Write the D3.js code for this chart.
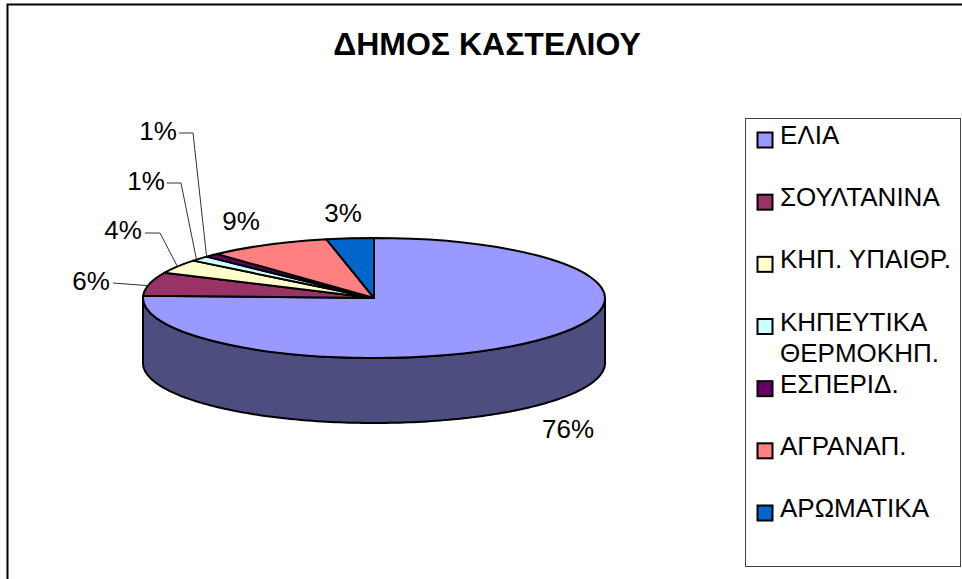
<!DOCTYPE html>
<html>
<head>
<meta charset="utf-8">
<script src="https://cdn.jsdelivr.net/npm/d3@7"></script>
<style>
  html, body { margin: 0; padding: 0; background: #fff; overflow: hidden; }
  text { font-family: "Liberation Sans", Arial, sans-serif; fill: #000; }
</style>
</head>
<body>
<script>
var width = 962;
var height = 579;

var title = "ΔΗΜΟΣ ΚΑΣΤΕΛΙΟΥ";
var categories = ["ΕΛΙΑ", "ΣΟΥΛΤΑΝΙΝΑ", "ΚΗΠ. ΥΠΑΙΘΡ.", "ΚΗΠΕΥΤΙΚΑ ΘΕΡΜΟΚΗΠ.", "ΕΣΠΕΡΙΔ.", "ΑΓΡΑΝΑΠ.", "ΑΡΩΜΑΤΙΚΑ"];
var values = [75.6, 6.3, 3.8, 1.4, 1.0, 8.6, 3.3];
var percentLabels = ["76%", "6%", "4%", "1%", "1%", "9%", "3%"];
var colors = ["#9999ff", "#993366", "#ffffcc", "#ccffff", "#660066", "#ff8080", "#0066cc"];
var wallColor = "#4d4d80";

// pie geometry
var cx = 374, cy = 298, rx = 231, ry = 60, depth = 65;

var svg = d3.select("body").append("svg")
    .attr("width", width)
    .attr("height", height)
    .style("display", "block");

// outer frame, only left and top are inside the picture
svg.append("path")
    .attr("d", "M7.5,579V4.5H962")
    .attr("fill", "none")
    .attr("stroke", "#000")
    .attr("stroke-width", 2);

svg.append("text")
    .attr("x", 487)
    .attr("y", 55)
    .attr("text-anchor", "middle")
    .style("font-size", "32px")
    .style("font-weight", "bold")
    .text(title);

//*********** Pie *******************
var slices = d3.pie().sort(null)(values);

// angle 0 is 12 o'clock, clockwise, like d3.arc
function rim(a, dy) {
    return [cx + rx*Math.sin(a), cy - ry*Math.cos(a) + (dy || 0)];
}

var line = d3.line();

// front wall of the big slice, from the right end to the left end
var front = d3.range(Math.PI/2, Math.PI*1.5 + 0.01, 0.02);
var wall = front.map(function(a) { return rim(a, 0); })
    .concat(front.slice().reverse().map(function(a) { return rim(a, depth); }));

svg.append("path")
    .attr("d", line(wall) + "Z")
    .attr("fill", wallColor)
    .attr("stroke", "#000")
    .attr("stroke-width", 2)
    .attr("stroke-linejoin", "round");

var arc = d3.arc().innerRadius(0).outerRadius(rx);

svg.append("g")
    .attr("transform", "translate(" + cx + "," + cy + ") scale(1," + (ry/rx) + ")")
    .selectAll("path")
    .data(slices)
    .join("path")
    .attr("d", arc)
    .attr("fill", function(d, i) { return colors[i]; })
    .attr("stroke", "#000")
    .attr("stroke-width", 2)
    .attr("stroke-linejoin", "round")
    .attr("vector-effect", "non-scaling-stroke");

//*********** Leaders and percent labels *******************
var labelAt = [[568, 438], [91, 290], [123, 239], [146, 190], [158, 140], [241, 230], [343, 222]];
// slice index -> elbow points, and how far along the slice's rim the leader lands
var elbows = {1: [[113, 283]], 2: [[145, 233], [160, 233]], 3: [[167, 183], [181, 183]], 4: [[179, 133], [193, 133]]};
var landing = {1: 0.43, 2: 0.5, 3: 0.25, 4: 0};

Object.keys(elbows).forEach(function(k) {
    var d = slices[k];
    var a = d.startAngle + (d.endAngle - d.startAngle)*landing[k];
    svg.append("path")
        .attr("d", line(elbows[k].concat([rim(a, 0)])))
        .attr("fill", "none")
        .attr("stroke", "#333")
        .attr("stroke-width", 1);
});

svg.append("g").selectAll("text")
    .data(percentLabels)
    .join("text")
    .attr("x", function(d, i) { return labelAt[i][0]; })
    .attr("y", function(d, i) { return labelAt[i][1]; })
    .attr("text-anchor", "middle")
    .style("font-size", "26px")
    .text(function(d) { return d; });

//*********** Legend *******************
svg.append("rect")
    .attr("x", 745.5)
    .attr("y", 118.5)
    .attr("width", 215)
    .attr("height", 448)
    .attr("fill", "#fff")
    .attr("stroke", "#444")
    .attr("stroke-width", 1);

var rowY = d3.scalePoint().domain(d3.range(categories.length)).range([140, 513]);

var rows = svg.append("g").selectAll("g")
    .data(categories)
    .join("g")
    .attr("transform", function(d, i) { return "translate(0," + rowY(i) + ")"; });

rows.append("rect")
    .attr("x", 757.5)
    .attr("y", -7.5)
    .attr("width", 15)
    .attr("height", 15)
    .attr("fill", function(d, i) { return colors[i]; })
    .attr("stroke", "#000")
    .attr("stroke-width", 2);

// only the long name wraps onto a second line
rows.each(function(d) {
    var parts = d.indexOf("ΚΗΠ.") === 0 ? [d] : d.split(" ");
    var g = d3.select(this);
    parts.forEach(function(p, j) {
        g.append("text")
            .attr("x", 780)
            .attr("y", 4 + j*31)
            .style("font-size", "26px")
            .text(p);
    });
});
</script>
</body>
</html>
